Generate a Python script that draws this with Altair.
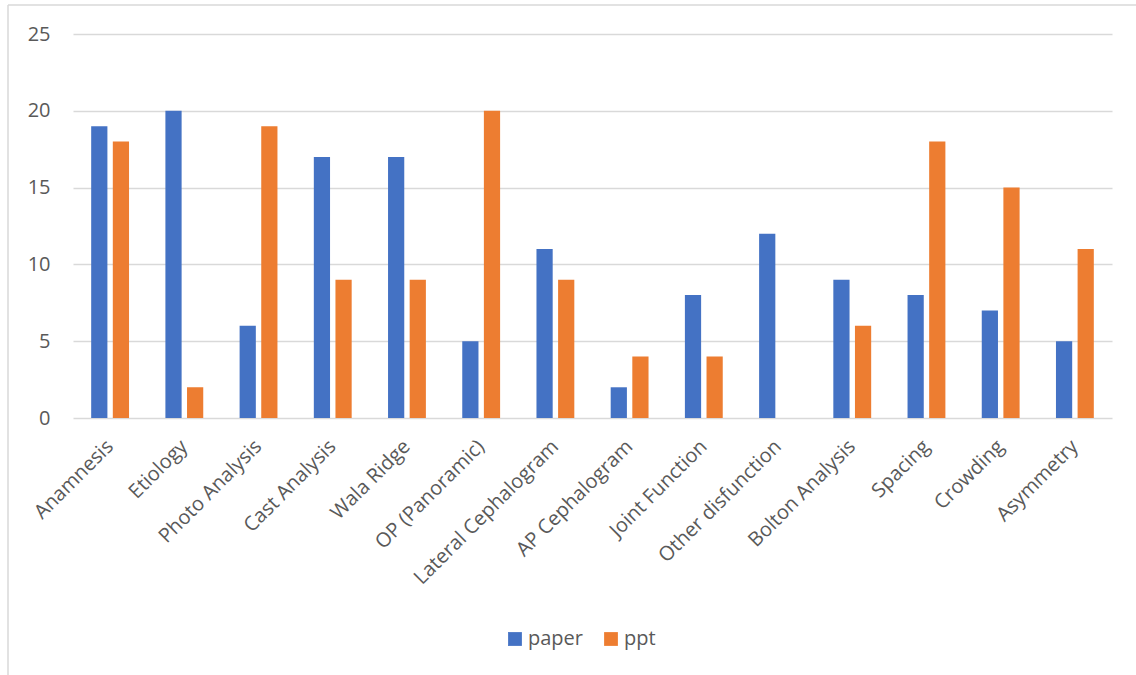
import altair as alt
import pandas as pd

categories = [
    "Anamnesis", "Etiology", "Photo Analysis", "Cast Analysis", "Wala Ridge",
    "OP (Panoramic)", "Lateral Cephalogram", "AP Cephalogram", "Joint Function",
    "Other disfunction", "Bolton Analysis", "Spacing", "Crowding", "Asymmetry",
]
paper = [19, 20, 6, 17, 17, 5, 11, 2, 8, 12, 9, 8, 7, 5]
ppt = [18, 2, 19, 9, 9, 20, 9, 4, 4, 0, 6, 18, 15, 11]
series = ["paper", "ppt"]
colors = ["#4472C4", "#ED7D31"]

rows = []
for i, cat in enumerate(categories):
    rows.append({"category": cat, "series": "paper", "value": paper[i]})
    rows.append({"category": cat, "series": "ppt", "value": ppt[i]})
df = pd.DataFrame(rows)

font = "Open Sans"
text_color = "#595959"
grid_color = "#D9D9D9"
fs = 20

bars = alt.Chart(df).mark_bar().encode(
    x=alt.X(
        "category:N",
        sort=categories,
        title=None,
        scale=alt.Scale(paddingInner=0.49, paddingOuter=0.245),
        axis=alt.Axis(
            labelAngle=-45,
            labelFontSize=fs,
            labelColor=text_color,
            labelFont=font,
            labelPadding=18,
            labelOffset=-7,
            ticks=False,
            domain=False,
            grid=False,
            labelLimit=300,
        ),
    ),
    xOffset=alt.XOffset("series:N", sort=series, scale=alt.Scale(paddingInner=0.25)),
    y=alt.Y(
        "value:Q",
        title=None,
        scale=alt.Scale(domain=[0, 25]),
        axis=alt.Axis(
            values=[0, 5, 10, 15, 20, 25],
            labelFontSize=fs,
            labelColor=text_color,
            labelFont=font,
            labelPadding=23,
            ticks=False,
            domain=False,
            gridColor=grid_color,
            gridWidth=1.5,
        ),
    ),
    color=alt.Color(
        "series:N",
        sort=series,
        scale=alt.Scale(domain=series, range=colors),
        legend=alt.Legend(
            title=None,
            orient="none",
            direction="horizontal",
            legendX=432,
            legendY=595,
            symbolType="square",
            symbolSize=190,
            symbolStrokeWidth=0,
            labelFontSize=fs,
            labelColor=text_color,
            labelFont=font,
            columnPadding=18,
            labelOffset=3,
        ),
    ),
)

# light frame along the left and top edges of the chart
frame_left = alt.Chart(pd.DataFrame({"k": [0]})).mark_rule(
    color=grid_color, strokeWidth=1.5, clip=False
).encode(x=alt.value(-65), y=alt.value(-29), y2=alt.value(645))
frame_top = alt.Chart(pd.DataFrame({"k": [0]})).mark_rule(
    color=grid_color, strokeWidth=1.5, clip=False
).encode(x=alt.value(-65), x2=alt.value(1070), y=alt.value(-29))

chart = (
    alt.layer(bars, frame_left, frame_top)
    .properties(
        width=1039,
        height=384,
        background="white",
        autosize=alt.AutoSizeParams(type="none"),
        padding={"left": 73, "top": 34, "right": 24, "bottom": 257},
    )
    .configure_view(stroke=None, strokeWidth=0)
)

chart.save("out.html", embed_options={"renderer": "svg", "actions": False})
